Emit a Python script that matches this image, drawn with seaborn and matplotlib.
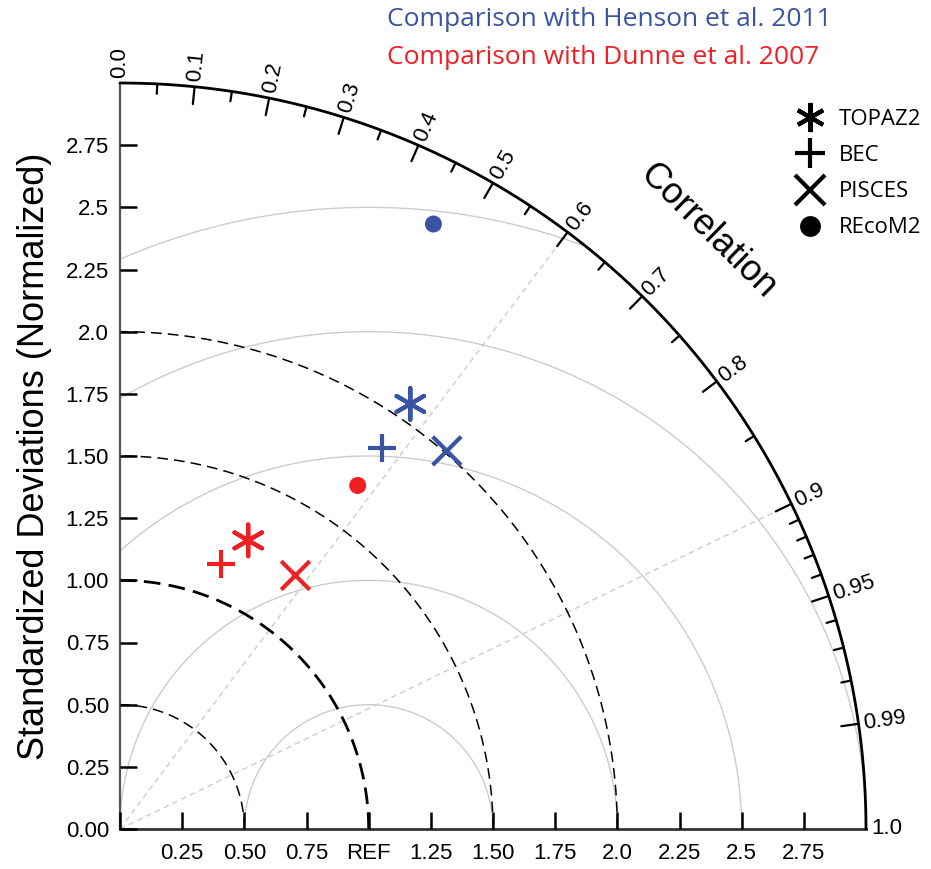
import numpy as np
import matplotlib
matplotlib.use('Agg')
import matplotlib.pyplot as plt
import seaborn as sns
import pandas as pd
from matplotlib.lines import Line2D

# ---------------- data ----------------
models = ['TOPAZ2', 'BEC', 'PISCES', 'REcoM2']
henson_std = [2.07, 1.86, 2.01, 2.74]
henson_corr = [0.564, 0.567, 0.654, 0.460]
dunne_std = [1.27, 1.14, 1.24, 1.68]
dunne_corr = [0.406, 0.357, 0.569, 0.569]
comparisons = ['Comparison with Henson et al. 2011', 'Comparison with Dunne et al. 2007']
colors = ['#3a54a4', '#ee2024']

corr_major = [0.1, 0.2, 0.3, 0.4, 0.5, 0.6, 0.7, 0.8, 0.9, 0.95, 0.99]
corr_minor = [0.05, 0.15, 0.25, 0.35, 0.45, 0.55, 0.65, 0.75, 0.85,
              0.91, 0.92, 0.93, 0.94, 0.96, 0.97, 0.98]
corr_labels = ['0.0', '0.1', '0.2', '0.3', '0.4', '0.5', '0.6', '0.7', '0.8', '0.9', '0.95', '0.99', '1.0']
corr_label_vals = [0.0, 0.1, 0.2, 0.3, 0.4, 0.5, 0.6, 0.7, 0.8, 0.9, 0.95, 0.99, 1.0]
corr_lines = [0.6, 0.9]
std_max = 3.0
std_dashed = [0.5, 1.5, 2.0]
std_ref_arc = [1.0]
rms_arcs = [0.5, 1.0, 1.5, 2.0, 2.5]
x_ticks = [0.0, 0.25, 0.5, 0.75, 1.0, 1.25, 1.5, 1.75, 2.0, 2.25, 2.5, 2.75]
x_ticklabels = ['', '0.25', '0.50', '0.75', 'REF', '1.25', '1.50', '1.75', '2.0', '2.25', '2.5', '2.75']
y_ticks = [0.0, 0.25, 0.5, 0.75, 1.0, 1.25, 1.5, 1.75, 2.0, 2.25, 2.5, 2.75]
y_ticklabels = ['0.00', '0.25', '0.50', '0.75', '1.00', '1.25', '1.50', '1.75', '2.0', '2.25', '2.5', '2.75']

markers = {'TOPAZ2': (6, 2, 0), 'BEC': '+', 'PISCES': 'x', 'REcoM2': 'o'}
msizes = {'TOPAZ2': 520, 'BEC': 400, 'PISCES': 420, 'REcoM2': 150}

rows = []
for comp, stds, cors in [(comparisons[0], henson_std, henson_corr),
                         (comparisons[1], dunne_std, dunne_corr)]:
    for m, s, c in zip(models, stds, cors):
        th = np.arccos(c)
        rows.append(dict(model=m, comparison=comp, std=s, corr=c,
                         x=s * np.cos(th), y=s * np.sin(th)))
df = pd.DataFrame(rows)

# ---------------- figure ----------------
sns.set_theme(style='ticks')
plt.rcParams['font.family'] = ['Liberation Sans', 'DejaVu Sans']
plt.rcParams['text.color'] = 'black'
plt.rcParams['axes.labelcolor'] = 'black'
plt.rcParams['xtick.color'] = 'black'
plt.rcParams['ytick.color'] = 'black'

fig = plt.figure(figsize=(9.31, 8.69), dpi=100)
ax = fig.add_axes([120 / 931, 40 / 869, 746 / 931, 746 / 869])

t = np.linspace(0, np.pi / 2, 400)
ax.plot(std_max * np.cos(t), std_max * np.sin(t), color='black', lw=2.0, clip_on=False, zorder=4)

for r in std_dashed:
    ax.plot(r * np.cos(t), r * np.sin(t), color='black', lw=1.1, ls=(0, (7, 4)), zorder=2)
for r in std_ref_arc:
    ax.plot(r * np.cos(t), r * np.sin(t), color='black', lw=2.0, ls=(0, (6, 3)), zorder=2)

tt = np.linspace(0, np.pi, 800)
for r in rms_arcs:
    xs = 1.0 + r * np.cos(tt)
    ys = r * np.sin(tt)
    mask = (xs < 0) | (xs ** 2 + ys ** 2 > std_max ** 2)
    xs = np.where(mask, np.nan, xs)
    ys = np.where(mask, np.nan, ys)
    ax.plot(xs, ys, color='#cccccc', lw=1.0, zorder=1)

for c in corr_lines:
    th = np.arccos(c)
    ax.plot([0, std_max * np.cos(th)], [0, std_max * np.sin(th)], color='#cccccc',
            lw=1.0, ls=(0, (4, 3)), zorder=1)

for c in corr_major:
    th = np.arccos(c)
    ax.plot([(std_max - 0.07) * np.cos(th), std_max * np.cos(th)],
            [(std_max - 0.07) * np.sin(th), std_max * np.sin(th)],
            color='black', lw=1.6, clip_on=False, zorder=4)
for c in corr_minor:
    th = np.arccos(c)
    ax.plot([(std_max - 0.04) * np.cos(th), std_max * np.cos(th)],
            [(std_max - 0.04) * np.sin(th), std_max * np.sin(th)],
            color='black', lw=1.6, clip_on=False, zorder=4)
for c, lab in zip(corr_label_vals, corr_labels):
    th = np.arccos(c)
    ax.text((std_max + 0.02) * np.cos(th), (std_max + 0.02) * np.sin(th), lab,
            rotation=np.degrees(th), rotation_mode='anchor', ha='left', va='center',
            fontsize=16, clip_on=False)

th = np.radians(45.5)
ax.text(3.37 * np.cos(th), 3.37 * np.sin(th), 'Correlation', rotation=-44.5,
        rotation_mode='anchor', ha='center', va='center', fontsize=26, clip_on=False)

# inward tick marks on the std axes
tick_len = 0.068
for v in x_ticks:
    ax.plot([v, v], [0, tick_len], color='black', lw=1.8, zorder=10, clip_on=False,
            solid_capstyle='butt')
for v in y_ticks:
    ax.plot([0, tick_len], [v, v], color='black', lw=1.8, zorder=10, clip_on=False,
            solid_capstyle='butt')

pal = dict(zip(comparisons, colors))
for m in models:
    sub = df[df['model'] == m]
    kw = dict(linewidth=3) if m != 'REcoM2' else dict(linewidth=0, edgecolor='none')
    sns.scatterplot(data=sub, x='x', y='y', hue='comparison', palette=pal,
                    marker=markers[m], s=msizes[m], legend=False, ax=ax,
                    zorder=5, clip_on=False, **kw)

ax.set_xlim(0, std_max)
ax.set_ylim(0, std_max)
ax.set_aspect('equal')
for sp in ['top', 'right']:
    ax.spines[sp].set_visible(False)
ax.spines['left'].set_color('#555555')
ax.spines['bottom'].set_color('#333333')
ax.spines['left'].set_linewidth(1.6)
ax.spines['bottom'].set_linewidth(2.0)

ax.set_xticks(x_ticks)
ax.set_xticklabels(x_ticklabels)
ax.set_yticks(y_ticks)
ax.set_yticklabels(y_ticklabels)
ax.tick_params(axis='both', which='major', direction='in', length=0,
               labelsize=16, labelcolor='black')
ax.tick_params(axis='x', pad=10)
ax.tick_params(axis='y', pad=8)
ax.set_xlabel('')
ax.set_ylabel('Standardized Deviations (Normalized)', fontsize=26, labelpad=10)

handles = [Line2D([], [], marker=markers[m], color='black', ls='',
                  markersize=(21 if m != 'REcoM2' else 15),
                  markeredgewidth=(3 if m != 'REcoM2' else 0)) for m in models]
leg = fig.legend(handles, models, loc='upper left', bbox_to_anchor=(782 / 931, 1 - 98 / 869),
                 frameon=False, prop={'family': 'Open Sans', 'size': 16},
                 labelspacing=0.68, handletextpad=0.55, handlelength=1.5, borderpad=0)

fig.text(387 / 931, 1 - 20 / 869, comparisons[0], color=colors[0], fontsize=19,
         family='Open Sans', ha='left', va='center')
fig.text(387 / 931, 1 - 57 / 869, comparisons[1], color=colors[1], fontsize=19,
         family='Open Sans', ha='left', va='center')

fig.savefig('out.png', dpi=100)
